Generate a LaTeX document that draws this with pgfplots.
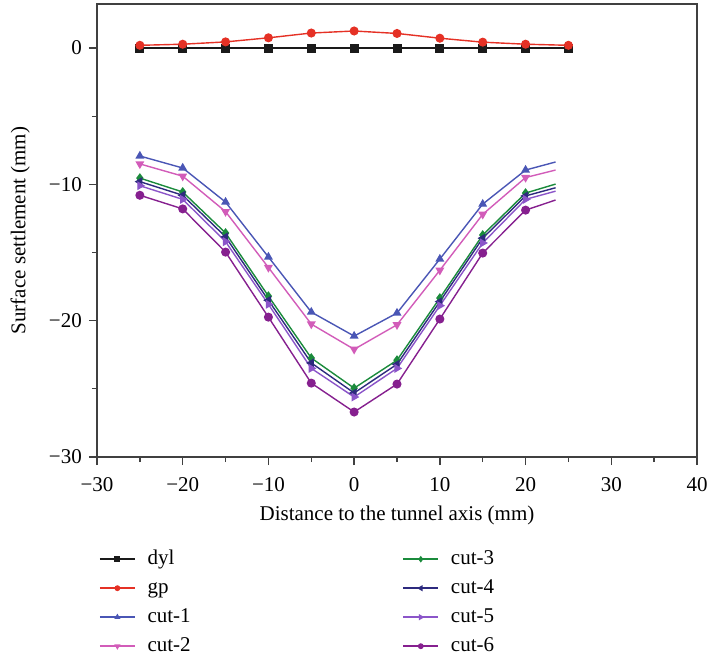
\documentclass[border=0pt]{standalone}
\usepackage{pgfplots}
\pgfplotsset{compat=1.18}
\usepackage{fontspec}
\setmainfont{Liberation Serif}
\usetikzlibrary{plotmarks}
\definecolor{cdyl}{HTML}{1A1A1A}
\definecolor{cgp}{HTML}{E53125}
\definecolor{cone}{HTML}{4A56B5}
\definecolor{ctwo}{HTML}{D25CB9}
\definecolor{cthree}{HTML}{1B8B3C}
\definecolor{cfour}{HTML}{2D2A7E}
\definecolor{cfive}{HTML}{8B55C9}
\definecolor{csix}{HTML}{86208F}
\begin{document}
\fontsize{21bp}{25bp}\selectfont
\begin{tikzpicture}
\begin{axis}[name=ax,
  width=600bp, height=453bp, scale only axis,
  xmin=-30, xmax=40, ymin=-30, ymax=3.23,
  xtick={-30,-20,...,40}, ytick={-30,-20,-10,0},
  xticklabels={−30,−20,−10,0,10,20,30,40},
  yticklabels={−30,−20,−10,0},
  minor x tick num=1, minor y tick num=1,
  tick align=outside, xtick pos=bottom, ytick pos=left,
  major tick length=8bp, minor tick length=5bp,
  axis line style={line width=1.3bp, color=black!75},
  every tick/.style={line width=1.3bp, color=black!75},
  every minor tick/.style={line width=1.3bp, color=black!75},
  ticklabel style={font=\fontsize{21bp}{25bp}\selectfont},
  xticklabel style={yshift=-5bp},
  label style={font=\fontsize{21bp}{25bp}\selectfont},
  xlabel={Distance to the tunnel axis (mm)},
  ylabel={Surface settlement (mm)},
  xlabel style={at={(axis description cs:0.5,-0.13)}, anchor=center},
  ylabel style={at={(axis description cs:-0.128,0.5)}, anchor=center},
  every axis plot/.append style={line width=1.4bp, mark size=3.8bp},
  legend columns=4, transpose legend, legend cell align=left,
  legend image code/.code={\draw[line width=1.4bp, mark indices={2},mark size=2.2bp] plot coordinates {(0bp,0bp)(17.5bp,0bp)(35bp,0bp)};},
  legend style={draw=none, fill=none, at={(axis description cs:0,0)}, anchor=north west,
    xshift=-1bp, yshift=-90bp, column sep=12bp, row sep=9bp,
    font=\fontsize{21bp}{25bp}\selectfont,
    nodes={inner sep=0pt, text height=15bp, text depth=5bp}},
]
\addplot[color=cdyl, mark=square*] coordinates {(-25,0)(-20,0)(-15,0)(-10,0)(-5,0)(0,0)(5,0)(10,0)(15,0)(20,0)(25,0)};
\addlegendentry{\makebox[243bp][l]{dyl}}
\addplot[color=cgp, mark=*] coordinates {(-25,0.2)(-20,0.28)(-15,0.45)(-10,0.75)(-5,1.1)(0,1.25)(5,1.07)(10,0.72)(15,0.43)(20,0.28)(25,0.2)};
\addlegendentry{\makebox[243bp][l]{gp}}
\addplot[color=cone, mark=triangle*, mark indices={1,2,3,4,5,6,7,8,9,10}] coordinates {(-25,-7.92)(-20,-8.8)(-15,-11.3)(-10,-15.33)(-5,-19.37)(0,-21.13)(5,-19.44)(10,-15.48)(15,-11.45)(20,-8.95)(23.5,-8.36)};
\addlegendentry{\makebox[243bp][l]{cut-1}}
\addplot[color=ctwo, mark=triangle*, mark options={rotate=180}, mark indices={1,2,3,4,5,6,7,8,9,10}] coordinates {(-25,-8.5)(-20,-9.4)(-15,-12.0)(-10,-16.1)(-5,-20.25)(0,-22.1)(5,-20.3)(10,-16.3)(15,-12.2)(20,-9.5)(23.5,-8.95)};
\addlegendentry{\makebox[243bp][l]{cut-2}}
\addplot[color=cthree, mark=diamond*, mark indices={1,2,3,4,5,6,7,8,9,10}] coordinates {(-25,-9.54)(-20,-10.56)(-15,-13.57)(-10,-18.2)(-5,-22.74)(0,-24.95)(5,-22.9)(10,-18.34)(15,-13.72)(20,-10.64)(23.5,-9.98)};
\addlegendentry{cut-3}
\addplot[color=cfour, mark=triangle*, mark options={rotate=90}, mark indices={1,2,3,4,5,6,7,8,9,10}] coordinates {(-25,-9.8)(-20,-10.8)(-15,-13.85)(-10,-18.5)(-5,-23.1)(0,-25.3)(5,-23.2)(10,-18.6)(15,-13.95)(20,-10.85)(23.5,-10.25)};
\addlegendentry{cut-4}
\addplot[color=cfive, mark=triangle*, mark options={rotate=-90}, mark indices={1,2,3,4,5,6,7,8,9,10}] coordinates {(-25,-10.1)(-20,-11.1)(-15,-14.2)(-10,-18.8)(-5,-23.5)(0,-25.6)(5,-23.5)(10,-18.9)(15,-14.3)(20,-11.1)(23.5,-10.5)};
\addlegendentry{cut-5}
\addplot[color=csix, mark=*, mark indices={1,2,3,4,5,6,7,8,9,10}] coordinates {(-25,-10.8)(-20,-11.8)(-15,-14.97)(-10,-19.74)(-5,-24.58)(0,-26.7)(5,-24.65)(10,-19.88)(15,-15.04)(20,-11.89)(23.5,-11.15)};
\addlegendentry{cut-6}
\end{axis}
\pgfresetboundingbox
\path[use as bounding box] ([xshift=-97bp,yshift=4bp]ax.north west) rectangle ([xshift=12bp,yshift=-199bp]ax.south east);
\end{tikzpicture}
\end{document}
